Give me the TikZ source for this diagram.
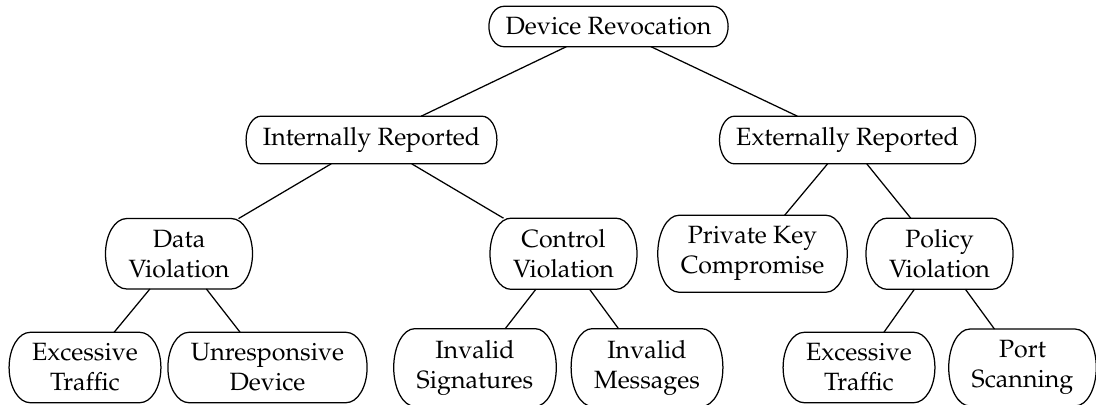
\documentclass[tikz,border=0pt]{standalone}
\usepackage[T1]{fontenc}
\usepackage{mathpazo}
\usetikzlibrary{calc}

\tikzset{
  cat/.style={rectangle, inner ysep=4.3pt, align=center,
    font=\fontsize{10}{12}\selectfont},
  single/.style={cat, inner xsep=6.5pt},
  double/.style={cat, inner xsep=9pt},
  link/.style={line width=0.5pt}
}

% outline of a node as a bar with half-elliptical ends of x radius #2
\newcommand\pilloutline[2]{%
  \draw[link] let \p1=(#1.north east), \p2=(#1.south west),
      \n1={(\y1-\y2)/2} in
    (\x2+#2,\y1) -- (\x1-#2,\y1)
    arc[start angle=90, end angle=-90, x radius=#2, y radius=\n1]
    -- (\x2+#2,\y2)
    arc[start angle=270, end angle=90, x radius=#2, y radius=\n1]
    -- cycle;}

\begin{document}
\begin{tikzpicture}[x=1pt,y=1pt]
  \useasboundingbox (0,0) rectangle (438.4,161.6);

  % root
  \node[single] (root) at (243.4,151.0) {Device Revocation};

  % first level
  \node[single] (int) at (148.6,105.6) {Internally Reported};
  \node[single] (ext) at (339.0,105.6) {Externally Reported};

  % second level
  \node[double] (data) at (71.6,60.1) {Data\\Violation};
  \node[double] (ctrl) at (225.4,60.1) {Control\\Violation};
  \node[double] (key)  at (301.0,60.1) {Private Key\\Compromise};
  \node[double] (pol)  at (375.8,60.1) {Policy\\Violation};

  % leaves
  \node[double] (trafA) at (34.0,14.6)  {Excessive\\Traffic};
  \node[double] (unres) at (107.0,14.6) {Unresponsive\\Device};
  \node[double] (sig)   at (190.0,14.6) {Invalid\\Signatures};
  \node[double] (msg)   at (258.8,14.6) {Invalid\\Messages};
  \node[double] (trafB) at (343.6,14.6) {Excessive\\Traffic};
  \node[double] (port)  at (409.0,14.6) {Port\\Scanning};

  % outlines
  \foreach \nd in {root,int,ext} {\pilloutline{\nd}{6pt}}
  \foreach \nd in {data,ctrl,key,pol,trafA,unres,sig,msg,trafB,port}
    {\pilloutline{\nd}{8.4pt}}

  % connectors
  \draw[link] (root) -- (int);
  \draw[link] (root) -- (ext);
  \draw[link] (int) -- (data);
  \draw[link] (int) -- (ctrl);
  \draw[link] (ext) -- (key);
  \draw[link] (ext) -- (pol);
  \draw[link] (data) -- (trafA);
  \draw[link] (data) -- (unres);
  \draw[link] (ctrl) -- (sig);
  \draw[link] (ctrl) -- (msg);
  \draw[link] (pol) -- (trafB);
  \draw[link] (pol) -- (port);
\end{tikzpicture}
\end{document}
